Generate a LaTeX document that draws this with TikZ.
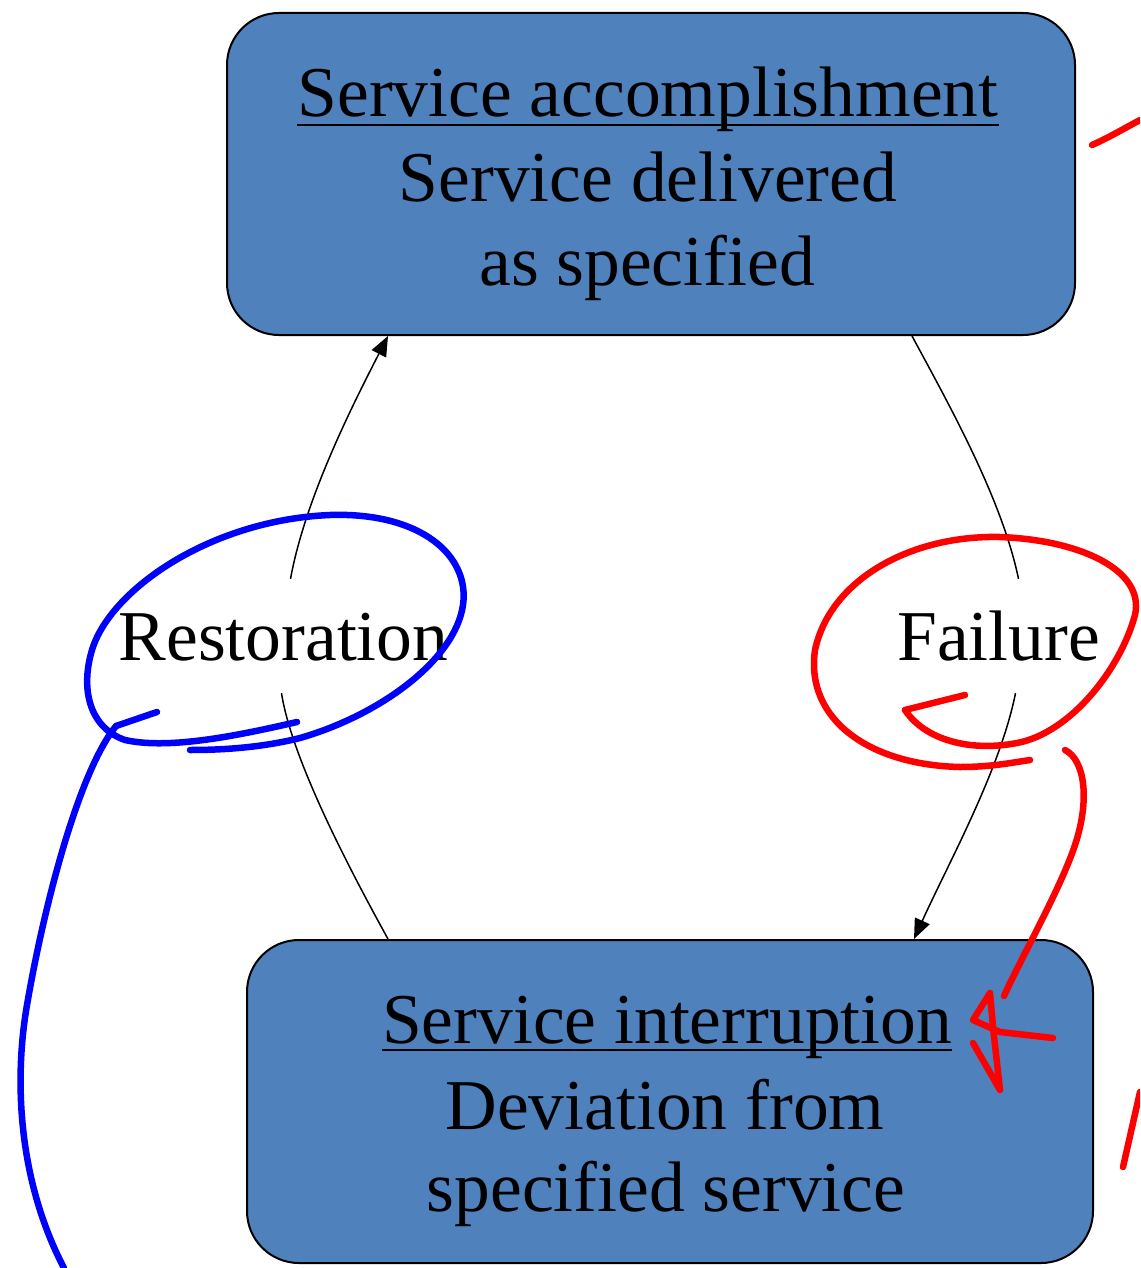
\documentclass[tikz,border=0pt]{standalone}
\usepackage{fontspec}
\setmainfont{Liberation Serif}
\usetikzlibrary{arrows.meta}
\definecolor{boxblue}{HTML}{4F81BD}
\tikzset{
  statebox/.style={draw=black, line width=2pt, fill=boxblue, rounded corners=52pt, inner sep=0pt},
  txt/.style={anchor=base, inner sep=0pt, font=\fontsize{71.5}{85}\selectfont},
  lbl/.style={anchor=base, inner xsep=0pt, inner ysep=33pt, text height=48pt, text depth=0pt, font=\fontsize{71.5}{85}\selectfont},
  uline/.style={line width=2pt},
  conn/.style={line width=1.5pt, black},
  tip/.style={-{Triangle[length=20pt,width=16pt]}},
  bluepen/.style={draw={rgb,255:red,0;green,0;blue,255}, line width=6.5pt, line cap=round, line join=round},
  redpen/.style={draw={rgb,255:red,255;green,0;blue,0}, line width=6.5pt, line cap=round, line join=round}
}
\begin{document}
\begin{tikzpicture}[x=1pt,y=-1pt]
\useasboundingbox (0,0) rectangle (1140,1268);
\clip (0,0) rectangle (1140,1268);
% boxes
\node[statebox, minimum width=848pt, minimum height=322pt] (top) at (651,174) {};
\node[statebox, minimum width=846pt, minimum height=323pt] (bot) at (670,1101.5) {};
% texts
\node[txt] (t1) at (648,117) {Service accomplishment};
\node[txt] (t2) at (648,201) {Service delivered};
\node[txt] (t3) at (647,285) {as specified};
\node[txt] (b1) at (667,1043) {Service interruption};
\node[txt] (b2) at (665,1129) {Deviation from};
\node[txt] (b3) at (666,1211) {specified service};
\draw[uline] ([yshift=-8pt]t1.base west) -- ([yshift=-8pt]t1.base east);
\draw[uline] ([yshift=-7pt]b1.base west) -- ([yshift=-7pt]b1.base east);
% labels
\node[lbl] (rest) at (283.5,660) {Restoration};
\node[lbl] (fail) at (998.5,660) {Failure};
% connectors
\draw[conn] (388,0 |- bot.north) .. controls (350,870) and (292,760) .. ([xshift=-2pt]rest.south);
\draw[conn,tip] ([xshift=7pt]rest.north) .. controls (305,500) and (350,410) .. (388,0 |- top.south);
\draw[conn] (912,0 |- top.south) .. controls (952,410) and (1002,500) .. ([xshift=20pt]fail.north);
\draw[conn,tip] ([xshift=17pt]fail.south) .. controls (1000,770) and (950,860) .. (914,0 |- bot.north);
% blue hand strokes
\draw[bluepen] (297,722) .. controls (240,735) and (170,750) .. (125,740)
  .. controls (90,728) and (80,690) .. (92,650)
  .. controls (110,590) and (210,520) .. (330,515)
  .. controls (420,512) and (470,555) .. (463,605)
  .. controls (455,660) and (380,715) .. (300,738)
  .. controls (260,748) and (220,750) .. (190,750);
\draw[bluepen] (157,712) -- (116,726);
\draw[bluepen] (116,726) .. controls (80,770) and (45,900) .. (27,1005)
  .. controls (14,1080) and (18,1180) .. (64,1268);
% red hand strokes
\draw[redpen] (965,695) -- (905,710);
\draw[redpen] (905,710) .. controls (925,740) and (970,752) .. (1017,743)
  .. controls (1070,733) and (1120,670) .. (1135,615)
  .. controls (1145,570) and (1080,540) .. (1000,537)
  .. controls (910,535) and (830,580) .. (815,650)
  .. controls (805,720) and (870,765) .. (960,767)
  .. controls (990,767) and (1010,763) .. (1030,760);
\draw[redpen] (1065,750) .. controls (1085,760) and (1090,800) .. (1075,845)
  .. controls (1060,890) and (1020,960) .. (1004,996);
\draw[redpen] (973,1043) -- (1000,1090) -- (993,1027) -- (990,993) -- (973,1020) -- (1000,1032) -- (1053,1038);
\draw[redpen] (1092,145) .. controls (1108,138) and (1125,128) .. (1140,120);
\draw[redpen] (1123,1167) -- (1140,1092);
\end{tikzpicture}
\end{document}
